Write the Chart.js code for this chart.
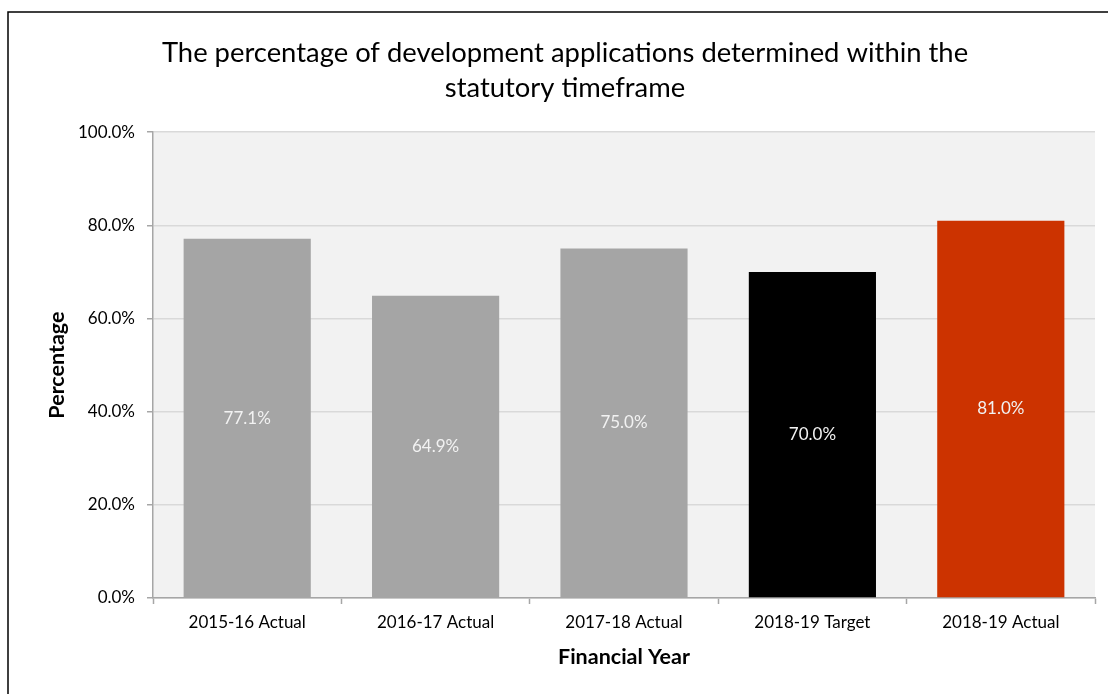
<!DOCTYPE html>
<html>
<head>
<meta charset="utf-8">
<script src="https://cdn.jsdelivr.net/npm/chart.js@4/dist/chart.umd.min.js"></script>
<style>
  html, body { margin: 0; padding: 0; background: #ffffff; }
  #wrap { width: 1108px; height: 694px; }
</style>
</head>
<body>
<div id="wrap"><canvas id="myChart"></canvas></div>
<script>
// Chart data
const years = ['2015-16 Actual', '2016-17 Actual', '2017-18 Actual', '2018-19 Target', '2018-19 Actual'];
const percentages = [77.1, 64.9, 75.0, 70.0, 81.0];
const barColors = ['#a5a5a5', '#a5a5a5', '#a5a5a5', '#000000', '#cc3300'];
const yTicks = [0, 20, 40, 60, 80, 100];

const fontName = 'Lato, "Open Sans", sans-serif';

// Background, frame and plot area fill
const backdrop = {
    id: 'backdrop',
    beforeDraw(chart) {
        const ctx = chart.ctx;
        const a = chart.chartArea;
        ctx.save();
        ctx.fillStyle = '#ffffff';
        ctx.fillRect(0, 0, chart.width, chart.height);
        ctx.fillStyle = '#f2f2f2';
        ctx.fillRect(a.left, a.top, a.right - a.left, a.bottom - a.top);
        ctx.strokeStyle = '#000000';
        ctx.lineWidth = 1.5;
        ctx.beginPath();
        ctx.moveTo(8, chart.height);
        ctx.lineTo(8, 12);
        ctx.lineTo(chart.width, 12);
        ctx.stroke();
        ctx.restore();
    }
};

// Value labels in the middle of each bar
const barLabels = {
    id: 'barLabels',
    afterDatasetsDraw(chart) {
        const ctx = chart.ctx;
        const meta = chart.getDatasetMeta(0);
        ctx.save();
        ctx.fillStyle = '#f2f2f2';
        ctx.font = '17px ' + fontName;
        ctx.textAlign = 'center';
        ctx.textBaseline = 'middle';
        meta.data.forEach(function (bar, i) {
            ctx.fillText(percentages[i].toFixed(1) + '%', bar.x, (bar.y + bar.base) / 2);
        });
        ctx.restore();
    }
};

const ctx = document.getElementById('myChart').getContext('2d');

const myChart = new Chart(ctx, {
    type: 'bar',
    data: {
        labels: years,
        datasets: [{
            data: percentages,
            backgroundColor: barColors,
            borderWidth: 0,
            barPercentage: 1,
            categoryPercentage: 0.675
        }]
    },
    options: {
        responsive: true,
        maintainAspectRatio: false,
        animation: false,
        layout: {
            padding: { left: 35, right: 13, top: 0, bottom: 24 }
        },
        scales: {
            x: {
                grid: {
                    offset: true,
                    drawOnChartArea: false,
                    tickLength: 6,
                    tickColor: '#a6a6a6',
                    tickWidth: 1.5
                },
                border: { color: '#a6a6a6', width: 1.5 },
                ticks: {
                    color: '#000000',
                    padding: 8,
                    font: { family: fontName, size: 17 }
                },
                title: {
                    display: true,
                    text: 'Financial Year',
                    color: '#000000',
                    font: { family: fontName, size: 21.5, weight: 'bold' },
                    padding: { top: 12, bottom: 0 }
                },
                afterFit(scale) {
                    scale.height = 72;
                }
            },
            y: {
                min: 0,
                max: 100,
                afterBuildTicks(scale) {
                    scale.ticks = yTicks.map(v => ({ value: v }));
                },
                grid: {
                    color: '#d9d9d9',
                    lineWidth: 1.5,
                    tickLength: 6,
                    tickColor: '#a6a6a6',
                    tickWidth: 1.5
                },
                border: { color: '#a6a6a6', width: 1.5 },
                ticks: {
                    color: '#000000',
                    padding: 12,
                    font: { family: fontName, size: 17 },
                    callback: function (value) {
                        return value.toFixed(1) + '%';
                    }
                },
                title: {
                    display: true,
                    text: 'Percentage',
                    color: '#000000',
                    font: { family: fontName, size: 21.5, weight: 'bold' },
                    padding: { top: 9, bottom: 4 }
                },
                afterFit(scale) {
                    scale.width = 118;
                }
            }
        },
        plugins: {
            legend: { display: false },
            tooltip: { enabled: false },
            title: {
                display: true,
                text: ['The percentage of development applications determined within the', 'statutory timeframe'],
                color: '#000000',
                font: { family: fontName, size: 27.4, weight: 'normal', lineHeight: 1.28 },
                padding: { top: 36, bottom: 26 }
            }
        }
    },
    plugins: [backdrop, barLabels]
});
</script>
</body>
</html>
